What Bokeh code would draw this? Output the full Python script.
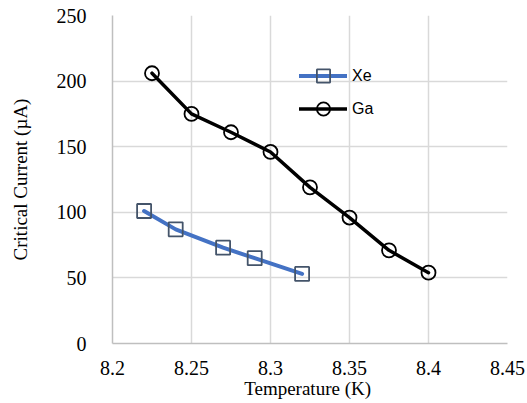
from bokeh.plotting import figure
from bokeh.models import Range1d, FixedTicker, Legend, LegendItem
from bokeh.embed import file_html
from bokeh.resources import INLINE

xe_t = [8.22, 8.24, 8.27, 8.29, 8.32]
xe_i = [101, 87, 73, 65, 53]
ga_t = [8.225, 8.25, 8.275, 8.3, 8.325, 8.35, 8.375, 8.4]
ga_i = [206, 175, 161, 146, 119, 96, 71, 54]
x_ticks = [8.2, 8.25, 8.3, 8.35, 8.4, 8.45]
y_ticks = [0, 50, 100, 150, 200, 250]

p = figure(width=527, height=403, output_backend="svg", toolbar_location=None,
           x_range=Range1d(8.2, 8.45), y_range=Range1d(0, 250),
           min_border_left=112, min_border_right=20, min_border_top=15, min_border_bottom=60)
p.outline_line_color = None
p.background_fill_color = "white"
p.border_fill_color = "white"

for ax, ticks in ((p.xaxis[0], x_ticks), (p.yaxis[0], y_ticks)):
    ax.ticker = FixedTicker(ticks=ticks)
    ax.major_tick_line_color = None
    ax.minor_tick_line_color = None
    ax.axis_line_color = "#bfbfbf"
    ax.axis_line_width = 1.5
    ax.major_label_text_font = "Liberation Serif"
    ax.major_label_text_font_size = "20px"
    ax.major_label_text_color = "black"
    ax.axis_label_text_font = "Liberation Serif"
    ax.axis_label_text_font_size = "19px"
    ax.axis_label_text_font_style = "normal"
    ax.axis_label_text_color = "black"

p.xaxis.axis_label = "Temperature  (K)"
p.yaxis.axis_label = "Critical Current (\u00b5A)"
p.xaxis.major_label_standoff = 11
p.yaxis.major_label_standoff = 20
p.xaxis.axis_label_standoff = 0
p.yaxis.axis_label_standoff = 23
p.xaxis.major_label_overrides = {8.2: "8.2", 8.3: "8.3", 8.4: "8.4"}

p.xgrid.ticker = FixedTicker(ticks=x_ticks)
p.ygrid.ticker = FixedTicker(ticks=y_ticks)
p.grid.grid_line_color = "#d9d9d9"
p.grid.grid_line_width = 1.5

l1 = p.line(xe_t, xe_i, line_color="#4472c4", line_width=4, line_cap="round")
m1 = p.scatter(xe_t, xe_i, marker="square", size=14, fill_color=None,
               line_color="#44546a", line_width=1.8)
l2 = p.line(ga_t, ga_i, line_color="black", line_width=3.5, line_cap="round")
m2 = p.scatter(ga_t, ga_i, marker="circle", size=14, fill_color=None,
               line_color="black", line_width=1.8)

legend = Legend(items=[LegendItem(label="Xe", renderers=[l1, m1]),
                       LegendItem(label="Ga", renderers=[l2, m2])],
                location=(187, 218), orientation="vertical",
                glyph_width=48, glyph_height=33, spacing=0, padding=0, margin=0,
                label_standoff=5, label_text_font="Liberation Sans",
                label_text_font_size="16px", label_text_color="black",
                border_line_color=None, background_fill_alpha=0)
p.add_layout(legend, "center")

open("out.html", "w").write(file_html(p, INLINE))
